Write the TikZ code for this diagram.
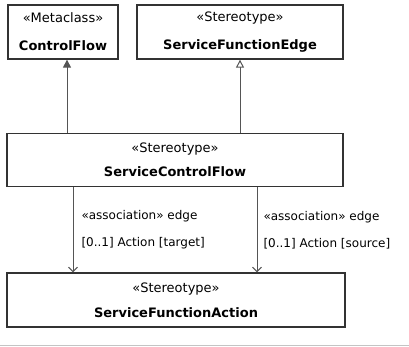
\documentclass[tikz,border=0pt]{standalone}
\usepackage{fontspec}
\setmainfont{DejaVu Sans}
\usepackage{xcolor}
\usetikzlibrary{arrows.meta,positioning}
\definecolor{inkline}{HTML}{333333}
\definecolor{inkarrow}{HTML}{555555}
\definecolor{rulegray}{HTML}{C4C4C4}

\begin{document}
\begin{tikzpicture}[x=1pt, y=-1pt,
  cls/.style={draw=inkline, line width=1.3pt, fill=white, align=center,
              font=\fontsize{13}{15}\selectfont, inner sep=0pt, minimum height=54pt},
  ext/.style={-{Triangle[length=8pt, width=8pt]}, inkarrow, line width=1pt},
  gen/.style={-{Triangle[open, length=8pt, width=8pt, fill=white]}, inkarrow, line width=1pt},
  assoc/.style={-{Straight Barb[length=4.5pt, width=9pt]}, inkarrow, line width=1pt},
  lbl/.style={font=\fontsize{12}{27}\selectfont, text=black, align=left, anchor=west, inner sep=0pt}]
  \useasboundingbox (0,0) rectangle (409,347);
  % upper row
  \node[cls, minimum width=110pt] (meta) at (63,32) {«Metaclass»\\[13pt]\textbf{ControlFlow}};
  \node[cls, minimum width=206pt] (edge) at (240,32) {«Stereotype»\\[13pt]\textbf{ServiceFunctionEdge}};
  % middle and bottom
  \node[cls, minimum width=336pt, minimum height=53pt] (sflow) at (175,160) {«Stereotype»\\[9pt]\textbf{ServiceControlFlow}};
  \node[cls, minimum width=338pt] (sact) at (176,300) {«Stereotype»\\[10pt]\textbf{ServiceFunctionAction}};
  \draw[ext] (sflow.north -| 67,0) -- (meta.south -| 67,0);
  \draw[gen] (sflow.north -| edge.south) -- (edge.south);
  \draw[assoc] (sflow.south -| 73,0) -- node[lbl, xshift=8pt] {«association» edge\\{}[0..1] Action [target]} (sact.north -| 73,0);
  \draw[assoc] (sflow.south -| 257,0) -- node[lbl, xshift=6pt] {«association» edge\\{}[0..1] Action [source]} (sact.north -| 257,0);
  \draw[rulegray, line width=1pt] (0,345) -- (409,345);
\end{tikzpicture}
\end{document}
